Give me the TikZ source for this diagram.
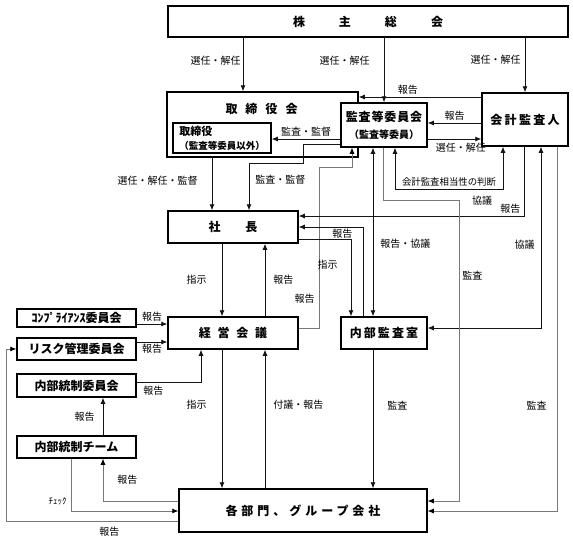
\documentclass[tikz,border=0pt]{standalone}
\usepackage{fontspec}
\usepackage{tikz}
\usetikzlibrary{positioning,arrows.meta}
\newfontfamily\jp{Noto Sans CJK JP}
\definecolor{colorbox}  {RGB}{  0,  0,  0}
\definecolor{colorline} {RGB}{ 20, 20, 20}
\definecolor{colorthin} {RGB}{120,120,120}

\begin{document}
\begin{tikzpicture}[
    x=1pt, y=-1pt,
    >={Latex[length=6pt,width=5pt]},
    font=\jp,
    base/.style={draw=colorbox,line width=1.5pt,fill=white,inner sep=0pt,align=center,font={\jp\bfseries\fontsize{12}{14}\selectfont}},
    sidebox/.style={base,minimum width=119pt},
    txt/.style={font={\jp\fontsize{10}{12}\selectfont},inner sep=2pt},
    link/.style={draw=colorline,line width=0.8pt},
    weak/.style={draw=colorthin,line width=0.7pt,>={Latex[length=6pt,width=5pt,color=black]}},
]
    \useasboundingbox (0,0) rectangle (573,549);

    \node[base,minimum width=400pt,minimum height=31pt] (soukai)  at (368,21.5)   {株\hspace{34pt}主\hspace{34pt}総\hspace{34pt}会};
    \node[base,minimum width=191pt,minimum height=65pt] (torikai) at (262.5,124.5) {};
    \node[font={\jp\bfseries\fontsize{12}{14}\selectfont}] (torititle) at (261.5,109) {取\hspace{8pt}締\hspace{8pt}役\hspace{8pt}会};
    \node[base,minimum width=98pt,minimum height=30pt,align=left] (yaku) at (222,138)
        {{\fontsize{11}{13}\selectfont 取締役}\\{\fontsize{9.5}{12}\selectfont （監査等委員以外）}};
    \node[base,minimum width=86pt,minimum height=44pt] (kansa)  at (384,125)
        {\addfontfeature{LetterSpace=7}監査等委員会\\[3pt]{\fontsize{10}{11}\selectfont （監査等委員）}};
    \node[base,minimum width=86pt,minimum height=53pt] (kaikei) at (525,119.5) {\addfontfeature{LetterSpace=19}会計監査人};

    \node[base,minimum width=130pt,minimum height=32pt] (shacho) at (233,227) {社\hspace{25pt}長};
    \node[base,minimum width=130pt,minimum height=32pt] (keiei)  at (233,333) {経\hspace{6.7pt}営\hspace{6.7pt}会\hspace{6.7pt}議};
    \node[base,minimum width=86pt,minimum height=32pt]  (naibu)  at (384,333) {\addfontfeature{LetterSpace=17}内部監査室};

    \node[sidebox,minimum height=18pt] (comp)   at (76.5,318)   {ｺﾝﾌﾟﾗｲｱﾝｽ委員会};
    \node[sidebox,minimum height=22pt] (risk)   at (76.5,349)   {リスク管理委員会};
    \node[sidebox,minimum height=23pt] (iinkai) at (76.5,385.5) {内部統制委員会};
    \node[sidebox,minimum height=22pt] (team)   at (76.5,447)   {内部統制チーム};

    \node[base,minimum width=248pt,minimum height=43pt] (kakubu) at (303,510.5) {\addfontfeature{LetterSpace=33}各部門、グループ会社};

    % guides for the bent connectors
    \coordinate (selA)   at (243,0);
    \coordinate (selB)   at (212,0);
    \coordinate (shiji)  at (222,0);
    \coordinate (houk)   at (265,0);
    \coordinate (knai)   at (373,0);
    \coordinate (gTeam)  at (103,0);
    \coordinate (gCheck) at (71,0);
    \coordinate (gRisk)  at (6,0);
    \coordinate (rRep)   at (0,97);
    \coordinate (rKai)   at (0,123);
    \coordinate (rSel)   at (0,139);
    \coordinate (rComp)  at (0,324);
    \coordinate (rRisk)  at (0,342);
    \coordinate (rBu1)   at (0,501);
    \coordinate (rBu2)   at (0,511);
    \coordinate (rBu3)   at (0,521);
    \coordinate (kb1) at (303,144);
    \coordinate (kb2) at (249,163);
    \coordinate (kk1) at (319,328);
    \coordinate (kk2) at (352,167);
    \coordinate (st1) at (395,189);
    \coordinate (st2) at (503,189);
    \coordinate (nb1) at (351,239);
    \coordinate (nb2) at (363,227);
    \coordinate (ks)  at (524,216);
    \coordinate (kb)  at (383,200);
    \coordinate (kbr) at (459,200);
    \coordinate (kn2) at (541,328);
    \coordinate (kb3) at (557,511);
    \coordinate (ni)  at (201,382);

    % 株主総会
    \draw[link,->] (soukai.south -| selA) -- node[txt,left,pos=0.42] {選任・解任} (torikai.north -| selA);
    \draw[link,->] (soukai.south -| kansa.north) -- node[txt,left=12pt,pos=0.35] {選任・解任} (kansa.north);
    \draw[link,->] (soukai.south -| kaikei.north) -- node[txt,left=2pt,pos=0.41] {選任・解任} (kaikei.north);

    % 会計監査人・監査等委員会
    \draw[link,->] (kaikei.west |- rRep) -- node[txt,above,pos=0.6] {報告} (torikai.east |- rRep);
    \draw[link,->] (kaikei.west |- rKai) -- node[txt,above] {報告} (kansa.east |- rKai);
    \draw[link,->] (kansa.east |- rSel) -- node[txt,below=2pt,pos=0.62] {選任・解任} (kaikei.west |- rSel);
    \draw[link,->] (kansa.west |- rSel) -- node[txt,above] {監査・監督} (yaku.east |- rSel);
    \draw[link,<->] (kansa.south -| st1) -- (st1) -- node[txt,above,font={\jp\fontsize{9.4}{11}\selectfont}] {会計監査相当性の判断} (st2) -- (kaikei.south -| st2);
    \node[txt] (kyougi) at (482,201) {協議};

    % 社長へ
    \draw[link,->] (torikai.south -| selB) -- node[txt,left=12pt,pos=0.43] {選任・解任・監督} (shacho.north -| selB);
    \draw[link,->] (kansa.west |- kb1) -- (kb1) |- (kb2) -- node[txt,right=4pt,pos=0.35] {監査・監督} (shacho.north -| kb2);
    \draw[weak,->] (keiei.east |- kk1) -- (kk1) -- node[txt,left=2pt,pos=0.18] {報告} (kk1 |- kk2) -- (kk2) -- (kansa.south -| kk2);
    \draw[link,->] (kaikei.south -| ks) -- (ks) -- node[txt,above,pos=0.06] {報告} (shacho.east |- ks);

    % 社長・経営会議・内部監査室
    \draw[link,->] (shacho.south -| shiji) -- node[txt,left=13pt] {指示} (keiei.north -| shiji);
    \draw[link,->] (keiei.north -| houk) -- node[txt,right=6pt] {報告} (shacho.south -| houk);
    \draw[link,->] (shacho.east |- nb1) -- (nb1) -- node[txt,left=11pt,pos=0.33] {指示} (naibu.north -| nb1);
    \draw[link,->] (naibu.north -| nb2) -- (nb2) -- node[txt,below,pos=0.32] {報告} (shacho.east |- nb2);
    \draw[link,<->] (kansa.south -| knai) -- node[txt,right=5pt,pos=0.57] {報告・協議} (naibu.north -| knai);
    \draw[link,<->] (kaikei.south -| kn2) -- node[txt,left=4pt,pos=0.54] {協議} (kn2) -- (naibu.east |- kn2);

    % 各部門、グループ会社へ
    \draw[weak,->] (kansa.south -| kb) -- (kb) -- (kbr) -- node[txt,right=1pt,pos=0.25] {監査} (kbr |- rBu1) -- (kakubu.east |- rBu1);
    \draw[weak,->] (kaikei.south -| kb3) -- node[txt,left=8pt,pos=0.71] {監査} (kb3) -- (kakubu.east |- kb3);
    \draw[link,->] (naibu.south -| knai) -- node[txt,right=12pt,pos=0.4] {監査} (kakubu.north -| knai);
    \draw[link,->] (keiei.south -| shiji) -- node[txt,left=13pt,pos=0.4] {指示} (kakubu.north -| shiji);
    \draw[link,->] (kakubu.north -| houk) -- node[txt,right=6pt,pos=0.6] {付議・報告} (keiei.south -| houk);

    % 委員会・内部統制
    \draw[link,->] (comp.east |- rComp) -- node[txt,above] {報告} (keiei.west |- rComp);
    \draw[link,->] (risk.east |- rRisk) -- node[txt,below] {報告} (keiei.west |- rRisk);
    \draw[link,->] (iinkai.east |- ni) -- node[txt,below=2pt,pos=0.26] {報告} (ni) -- (keiei.south -| ni);
    \draw[link,->] (team.north -| gTeam) -- node[txt,left=6pt] {報告} (iinkai.south -| gTeam);
    \draw[weak,->] (kakubu.west |- rBu1) -- (gTeam |- rBu1) -- node[txt,right=12pt] {報告} (team.south -| gTeam);
    \draw[weak,->] (team.south -| gCheck) -- node[txt,left=2pt,pos=0.81,font={\jp\fontsize{9}{10}\selectfont}] {ﾁｪｯｸ} (gCheck |- rBu2) -- (kakubu.west |- rBu2);
    \draw[weak,->] (kakubu.west |- rBu3) -- node[txt,below=4pt,pos=0.4] {報告} (gRisk |- rBu3) -- (gRisk |- risk.west) -- (risk.west);

\end{tikzpicture}
\end{document}
